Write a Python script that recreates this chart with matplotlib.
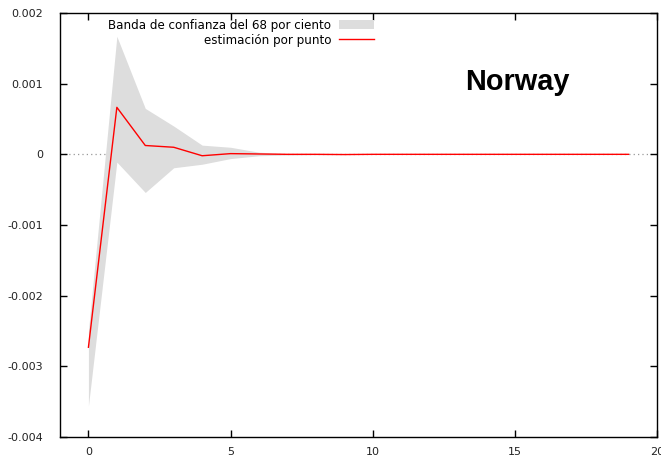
import numpy as np
import matplotlib
matplotlib.use("Agg")
import matplotlib.pyplot as plt

# horizon (periods)
horizon = list(range(20))

# point estimate of the response
point = [-0.00273, 0.000665, 0.000125, 0.0001, -0.00002, 0.00001, 0.000005, 0.0,
         0.0, -0.000003, 0.0, 0.0, 0.0, 0.0, 0.0, 0.0, 0.0, 0.0, 0.0, 0.0]

# 68% confidence band
lower = [-0.00356, -0.00011, -0.00054, -0.00019, -0.00014, -0.00006, -0.00002, -0.00001,
         -0.000005, -0.000003, 0.0, 0.0, 0.0, 0.0, 0.0, 0.0, 0.0, 0.0, 0.0, 0.0]
upper = [-0.0025, 0.00167, 0.00065, 0.0004, 0.00013, 0.0001, 0.00003, 0.00001,
         0.000005, 0.000003, 0.0, 0.0, 0.0, 0.0, 0.0, 0.0, 0.0, 0.0, 0.0, 0.0]

yticks = [-0.004, -0.003, -0.002, -0.001, 0, 0.001, 0.002]
ytick_labels = ["-0.004", "-0.003", "-0.002", "-0.001", "0", "0.001", "0.002"]

plt.rcParams['font.family'] = ['DejaVu Sans']

fig = plt.figure(figsize=(6.61, 4.61), dpi=100)
ax = fig.add_axes([60 / 661, 24 / 461, 597 / 661, 424 / 461])

ax.axhline(0, color='#999999', lw=0.9, ls=(0, (1, 2.5)), zorder=1)
ax.fill_between(horizon, lower, upper, color='#dddddd', lw=0, zorder=2,
                label='Banda de confianza del 68 por ciento')
ax.plot(horizon, point, color='#ff0000', lw=1.0, zorder=3, label='estimación por punto')

ax.set_xlim(-1, 20)
ax.set_ylim(-0.004, 0.002)
ax.set_xticks([0, 5, 10, 15, 20])
ax.set_yticks(yticks)
ax.set_yticklabels(ytick_labels)
ax.tick_params(direction='in', top=True, right=True, length=5, width=1,
               labelsize=8, colors='black', labelcolor='#222222')
ax.tick_params(axis='y', pad=12)
ax.tick_params(axis='x', pad=7)
for s in ax.spines.values():
    s.set_linewidth(1.0)

ax.text(15.1, 0.00102, 'Norway', fontsize=20.8, fontweight='bold',
        family='Liberation Sans', ha='center', va='center')

leg = ax.legend(loc='upper right', bbox_to_anchor=(0.534, 0.998), frameon=False,
                markerfirst=False, fontsize=8.6, handlelength=2.9, handleheight=0.9,
                handletextpad=0.7, borderaxespad=0.2, borderpad=0.2, labelspacing=0.2)

fig.savefig('out.png', dpi=100)
